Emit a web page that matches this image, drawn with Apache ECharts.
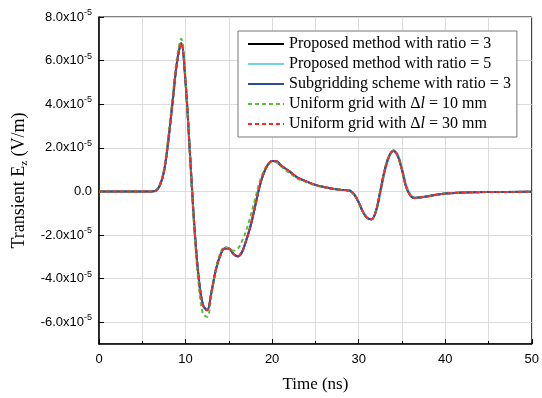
<!DOCTYPE html>
<html>
<head>
<meta charset="utf-8">
<script src="https://cdn.jsdelivr.net/npm/echarts@6/dist/echarts.min.js"></script>
<style>
  html, body { margin: 0; padding: 0; background: #fff; }
</style>
</head>
<body>
<div id="main" style="width: 542px;height:398px;"></div>
<script type="text/javascript">
  // time axis (ns), values in units of 1e-5 V/m
  var time = [0, 5, 6, 6.5, 7, 7.5, 8, 8.5, 9, 9.5, 10, 10.5, 11, 11.5, 12, 12.5, 13, 13.5, 14, 14.5,
              15, 15.5, 16, 16.5, 17, 17.5, 18, 18.5, 19, 19.5, 20, 20.5, 21, 22, 23, 24, 25, 26, 27, 28,
              28.5, 29, 29.5, 30, 30.5, 31, 31.5, 32, 32.5, 33, 33.5, 34, 34.5, 35, 35.5, 36, 36.5, 37, 38, 39,
              40, 42, 45, 50];

  var proposed3 = [0, 0, 0, 0.02, 0.25, 0.9, 2.3, 4.1, 5.9, 6.8, 5.0, 1.8, -1.5, -3.9, -5.2, -5.45, -4.6, -3.6, -2.95, -2.62,
                   -2.62, -2.85, -2.98, -2.8, -2.25, -1.6, -0.75, 0.15, 0.8, 1.22, 1.4, 1.38, 1.2, 0.92, 0.62, 0.45, 0.3, 0.2, 0.12, 0.07,
                   0.06, 0.03, -0.15, -0.5, -0.95, -1.22, -1.28, -0.9, 0.0, 0.95, 1.6, 1.88, 1.65, 1.0, 0.2, -0.2, -0.3, -0.28, -0.22, -0.15,
                   -0.1, -0.05, -0.03, -0.02];
  var proposed5 = [0, 0, 0, 0.02, 0.25, 0.9, 2.3, 4.1, 5.9, 6.8, 5.0, 1.8, -1.5, -3.9, -5.2, -5.45, -4.6, -3.6, -2.95, -2.62,
                   -2.62, -2.85, -2.98, -2.8, -2.25, -1.6, -0.75, 0.15, 0.8, 1.22, 1.4, 1.38, 1.2, 0.92, 0.62, 0.45, 0.3, 0.2, 0.12, 0.07,
                   0.06, 0.03, -0.13, -0.46, -0.9, -1.2, -1.28, -0.95, -0.1, 0.85, 1.55, 1.85, 1.7, 1.1, 0.3, -0.15, -0.28, -0.28, -0.22, -0.15,
                   -0.1, -0.05, -0.03, -0.02];
  var subgrid3 = [0, 0, 0, 0.02, 0.25, 0.9, 2.3, 4.1, 5.9, 6.8, 5.0, 1.8, -1.5, -3.9, -5.2, -5.45, -4.6, -3.6, -2.95, -2.62,
                  -2.62, -2.85, -2.98, -2.8, -2.25, -1.6, -0.75, 0.15, 0.8, 1.22, 1.4, 1.38, 1.2, 0.92, 0.62, 0.45, 0.3, 0.2, 0.12, 0.07,
                  0.06, 0.03, -0.15, -0.5, -0.95, -1.22, -1.28, -0.9, 0.0, 0.95, 1.6, 1.85, 1.65, 1.0, 0.2, -0.2, -0.3, -0.28, -0.22, -0.15,
                  -0.1, -0.05, -0.03, -0.02];
  var uniform10 = [0, 0, 0, 0.03, 0.3, 1.0, 2.5, 4.3, 6.1, 7.0, 5.2, 1.7, -1.7, -4.2, -5.6, -5.75, -4.7, -3.55, -2.85, -2.55,
                   -2.6, -2.72, -2.65, -2.3, -1.8, -1.15, -0.4, 0.35, 0.9, 1.25, 1.38, 1.33, 1.15, 0.85, 0.58, 0.42, 0.28, 0.19, 0.12, 0.07,
                   0.06, 0.03, -0.15, -0.5, -0.95, -1.22, -1.28, -0.88, 0.05, 1.0, 1.62, 1.85, 1.62, 0.95, 0.18, -0.2, -0.3, -0.28, -0.22, -0.15,
                   -0.1, -0.05, -0.03, -0.02];
  var uniform30 = [0, 0, 0, 0.02, 0.25, 0.9, 2.3, 4.1, 5.9, 6.8, 5.0, 1.8, -1.5, -3.9, -5.2, -5.45, -4.6, -3.6, -2.95, -2.62,
                   -2.62, -2.85, -2.98, -2.8, -2.25, -1.6, -0.75, 0.15, 0.8, 1.22, 1.4, 1.38, 1.2, 0.92, 0.62, 0.45, 0.3, 0.2, 0.12, 0.07,
                   0.06, 0.03, -0.15, -0.5, -0.95, -1.22, -1.28, -0.9, 0.0, 0.95, 1.6, 1.85, 1.65, 1.0, 0.2, -0.2, -0.3, -0.28, -0.22, -0.15,
                   -0.1, -0.05, -0.03, -0.02];

  var names = ['Proposed method with ratio = 3', 'Proposed method with ratio = 5', 'Subgridding scheme with ratio = 3',
               'Uniform grid with \u0394l = 10 mm', 'Uniform grid with \u0394l = 30 mm'];
  var colors = ['#000000', '#6fd3e3', '#2e4aa2', '#5bbd3a', '#ff2626'];

  function pairs(vals) {
    return time.map(function (t, i) { return [t, vals[i]]; });
  }

  var myChart = echarts.init(document.getElementById('main'));

  var serif = 'Liberation Serif';
  var sans = 'Liberation Sans';

  var series = [proposed3, proposed5, subgrid3, uniform10, uniform30].map(function (vals, i) {
    return {
      name: names[i],
      type: 'line',
      smooth: 0.35,
      symbol: 'none',
      data: pairs(vals),
      lineStyle: {
        color: colors[i],
        width: 2,
        type: i >= 3 ? [4, 3] : 'solid'
      },
      itemStyle: { color: colors[i] }
    };
  });

  var option = {
    backgroundColor: '#fff',
    animation: false,
    grid: {
      left: 99, right: 6, top: 17, bottom: 49,
      show: true, borderColor: '#000', borderWidth: 1
    },
    legend: {
      orient: 'vertical',
      left: 238, top: 31,
      padding: [5, 6, 5, 9],
      itemGap: 4,
      itemWidth: 36,
      itemHeight: 14,
      borderColor: '#777',
      borderWidth: 1,
      backgroundColor: '#fff',
      itemStyle: { opacity: 0 },
      data: names,
      formatter: function (n) {
        return n.replace('\u0394l', '\u0394{i|l}');
      },
      textStyle: {
        fontFamily: serif, fontSize: 16, color: '#000',
        rich: { i: { fontFamily: serif, fontSize: 16, fontStyle: 'italic', color: '#000' } }
      }
    },
    xAxis: {
      type: 'value',
      min: 0, max: 50, interval: 10,
      name: 'Time (ns)',
      nameLocation: 'middle',
      nameGap: 32,
      nameTextStyle: { fontFamily: serif, fontSize: 17, color: '#000' },
      axisLine: { show: true, onZero: false, lineStyle: { color: '#000', width: 1.5 } },
      axisTick: { show: true, inside: true, length: 5, lineStyle: { color: '#000' } },
      minorTick: { show: true, splitNumber: 2, length: 3, lineStyle: { color: '#000' } },
      axisLabel: { fontFamily: sans, fontSize: 13, color: '#000', margin: 9 },
      splitLine: { show: true, lineStyle: { color: '#dcdcdc' } },
      minorSplitLine: { show: true, lineStyle: { color: '#dcdcdc' } }
    },
    yAxis: {
      type: 'value',
      min: -7, max: 8, splitNumber: 7,
      name: '{a|Transient E}{b|z}{a| (V/m)}',
      nameLocation: 'middle',
      nameGap: 65,
      nameTextStyle: {
        rich: {
          a: { fontFamily: serif, fontSize: 18, color: '#000', lineHeight: 20 },
          b: { fontFamily: serif, fontSize: 11, color: '#000', lineHeight: 10, verticalAlign: 'bottom' }
        }
      },
      axisLine: { show: true, onZero: false, lineStyle: { color: '#000', width: 1.5 } },
      axisTick: { show: true, inside: true, length: 5, lineStyle: { color: '#000' } },
      axisLabel: {
        showMinLabel: false,
        margin: 7,
        formatter: function (v) {
          if (v === 0) return '{m|0.0}';
          return '{m|' + v.toFixed(1) + 'x10}{e|-5}';
        },
        rich: {
          m: { fontFamily: sans, fontSize: 13, color: '#000', lineHeight: 18 },
          e: { fontFamily: sans, fontSize: 9, color: '#000', lineHeight: 9, verticalAlign: 'top' }
        }
      },
      splitLine: { show: true, lineStyle: { color: '#dcdcdc' } }
    },
    series: series
  };

  myChart.setOption(option);
</script>
</body>
</html>
